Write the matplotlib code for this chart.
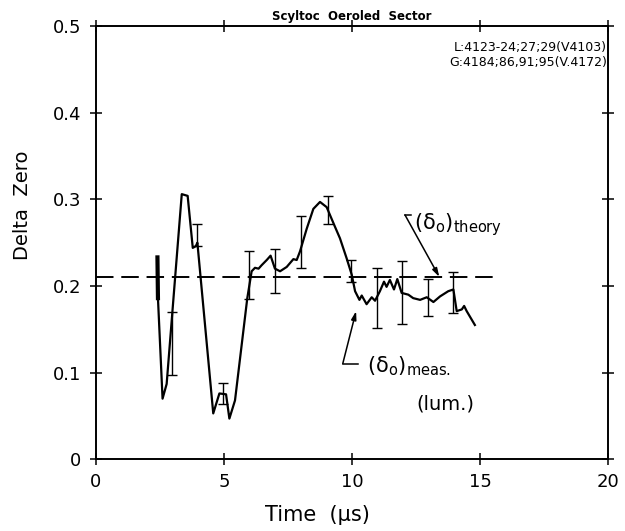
import numpy as np
import matplotlib
matplotlib.use("Agg")
import matplotlib.pyplot as plt

plt.rcParams['mathtext.default'] = 'regular'

# measured delta zero trace (luminosity)
t = [2.40, 2.42, 2.60, 2.76, 3.35, 3.58, 3.78, 3.90, 3.96, 4.58, 4.82, 5.08,
     5.21, 5.43, 5.91, 6.08, 6.21, 6.35, 6.47, 6.67, 6.82, 6.99, 7.19, 7.45,
     7.71, 7.84, 7.97, 8.23, 8.49, 8.75, 9.01, 9.34, 9.53, 9.79, 9.99, 10.12,
     10.29, 10.38, 10.57, 10.77, 10.90, 11.09, 11.25, 11.35, 11.48, 11.64,
     11.77, 11.94, 12.20, 12.39, 12.66, 12.92, 13.18, 13.44, 13.76, 13.96,
     14.09, 14.29, 14.38, 14.48, 14.80]
delta = [0.233, 0.186, 0.070, 0.087, 0.306, 0.304, 0.244, 0.246, 0.250, 0.053,
         0.076, 0.075, 0.047, 0.068, 0.186, 0.217, 0.221, 0.220, 0.224, 0.230,
         0.235, 0.220, 0.217, 0.222, 0.231, 0.230, 0.240, 0.266, 0.289, 0.297,
         0.291, 0.268, 0.255, 0.232, 0.213, 0.194, 0.184, 0.189, 0.179, 0.187,
         0.183, 0.194, 0.205, 0.199, 0.207, 0.196, 0.208, 0.192, 0.190, 0.186,
         0.184, 0.187, 0.1815, 0.188, 0.194, 0.196, 0.171, 0.173, 0.177, 0.171,
         0.155]

# error bars (low / high ends)
err_t = [2.98, 3.96, 4.97, 5.99, 6.99, 8.01, 9.05, 9.96, 10.99, 11.97, 12.96, 13.96]
err_lo = [0.097, 0.246, 0.064, 0.185, 0.192, 0.221, 0.271, 0.205, 0.151, 0.156, 0.165, 0.169]
err_hi = [0.170, 0.272, 0.088, 0.240, 0.243, 0.281, 0.304, 0.230, 0.221, 0.229, 0.208, 0.216]

delta_theory = 0.21
theory_t = [0, 15.5]

fig = plt.figure(figsize=(6.25, 5.31), dpi=100)
ax = fig.add_axes([0.1536, 0.135, 0.8192, 0.816])

ax.plot(theory_t, [delta_theory, delta_theory], color='black', lw=1.4,
        dashes=(9, 4))
ax.plot(t, delta, color='black', lw=1.6)
# start of trace is drawn heavier
ax.plot(t[:2], delta[:2], color='black', lw=3)

lo = np.array(err_lo)
hi = np.array(err_hi)
mid = (lo + hi) / 2
ax.errorbar(err_t, mid, yerr=[mid - lo, hi - mid], fmt='none', ecolor='black',
            elinewidth=1.0, capsize=3.5, capthick=1.0)

# annotations
ax.annotate('', xy=(13.41, 0.2105), xytext=(12.07, 0.282),
            arrowprops=dict(arrowstyle='-|>,head_length=0.5,head_width=0.15',
                            color='black', lw=1.1, shrinkA=0, shrinkB=0))
ax.plot([12.07, 12.3], [0.282, 0.282], color='black', lw=1.1)
ax.text(12.42, 0.2655, r'$(\delta_{o})_{theory}$', fontsize=15, va='baseline')

ax.annotate('', xy=(10.16, 0.171), xytext=(9.64, 0.1105),
            arrowprops=dict(arrowstyle='-|>,head_length=0.5,head_width=0.15',
                            color='black', lw=1.1, shrinkA=0, shrinkB=0))
ax.plot([9.64, 10.25], [0.1105, 0.1105], color='black', lw=1.1)
ax.text(10.6, 0.1, r'$(\delta_{o})_{meas.}$', fontsize=15, va='baseline')
ax.text(12.52, 0.058, '(lum.)', fontsize=14, va='baseline')

ax.text(0.998, 0.965, 'L:4123-24;27;29(V4103)\nG:4184;86,91;95(V.4172)',
        transform=ax.transAxes, ha='right', va='top', fontsize=9,
        linespacing=1.15)

ax.set_title('Scyltoc  Oeroled  Sector', fontsize=8.5, fontweight='bold', pad=4)

ax.set_xlim(0, 20)
ax.set_ylim(0, 0.5)
ax.set_xticks([0, 5, 10, 15, 20])
ax.set_yticks([0, 0.1, 0.2, 0.3, 0.4, 0.5])
ax.set_yticklabels(['0', '0.1', '0.2', '0.3', '0.4', '0.5'])
ax.tick_params(direction='inout', length=9, width=1.1, labelsize=13,
               top=True, right=True)
ax.tick_params(axis='y', pad=6)
ax.tick_params(axis='x', pad=5)
for s in ax.spines.values():
    s.set_linewidth(1.4)

ax.set_xlabel('Time  (μs)', fontsize=15)
ax.set_ylabel('Delta  Zero', fontsize=14)
ax.xaxis.set_label_coords(0.433, -0.105)
ax.yaxis.set_label_coords(-0.125, 0.587)

fig.savefig('out.png', dpi=100)
